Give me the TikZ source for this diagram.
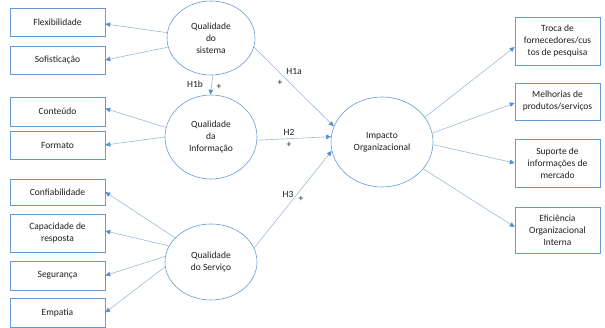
\documentclass[tikz,border=0pt]{standalone}
\usepackage{fontspec}
\setmainfont{Carlito}
\usetikzlibrary{shapes.geometric,arrows.meta}
\definecolor{bordc}{RGB}{100,155,210}
\definecolor{linec}{RGB}{160,185,215}
\definecolor{tipc}{RGB}{85,145,210}
\definecolor{txtc}{RGB}{30,30,30}
\tikzset{
  box/.style={draw=bordc,line width=0.6pt,rectangle,inner sep=1pt,align=center,text=txtc,font=\fontsize{9.5}{12}\selectfont},
  lbox/.style={box,minimum width=95pt},
  rbox/.style={box,minimum width=85pt},
  ell/.style={draw=bordc,line width=0.6pt,ellipse,inner sep=0pt,align=center,text=txtc,font=\fontsize{9.5}{12}\selectfont},
  arr/.style={draw=linec,line width=0.6pt,-{Triangle[width=4.5pt,length=5pt,color=tipc,fill=tipc]}},
  lab/.style={text=txtc,font=\fontsize{9.5}{12}\selectfont,inner sep=0pt}
}
\begin{document}
\begin{tikzpicture}[x=1pt,y=-1pt]
\useasboundingbox (0,0) rectangle (605,328);
% left boxes
\node[lbox,minimum height=28pt] (flex) at (57.5,22) {Flexibilidade};
\node[lbox,minimum height=28pt] (sof) at (57.5,60) {Sofisticação};
\node[lbox,minimum height=29pt] (cont) at (57.5,111.5) {Conteúdo};
\node[lbox,minimum height=28pt] (form) at (57.5,145) {Formato};
\node[lbox,minimum height=26pt] (conf) at (57.5,192) {Confiabilidade};
\node[lbox,minimum height=38pt] (cap) at (57.5,233) {Capacidade de\\resposta};
\node[lbox,minimum height=29pt] (seg) at (57.5,275.5) {Segurança};
\node[lbox,minimum height=29pt] (emp) at (57.5,312.5) {Empatia};
% ellipses
\node[ell,minimum width=88pt,minimum height=74pt] (sis) at (211,38) {Qualidade\\do\\sistema};
\node[ell,minimum width=92pt,minimum height=84pt] (inf) at (211,137) {Qualidade\\da\\Informação};
\node[ell,minimum width=92pt,minimum height=76pt] (serv) at (211,262) {Qualidade\\do Serviço};
\node[ell,minimum width=102pt,minimum height=90pt] (imp) at (382,142) {Impacto\\Organizacional};
% right boxes
\node[rbox,minimum height=48pt] (troca) at (557.5,41) {Troca de\\fornecedores/cus\\tos de pesquisa};
\node[rbox,minimum height=37pt] (melh) at (557.5,101.5) {Melhorias de\\produtos/serviços};
\node[rbox,minimum height=48pt] (sup) at (557.5,163) {Suporte de\\informações de\\mercado};
\node[rbox,minimum height=46pt] (efic) at (557.5,230) {Eficiência\\Organizacional\\Interna};
% arrows to left boxes
\draw[arr] (sis.173) -- ([yshift=-2pt]flex.east);
\draw[arr] (sis.192) -- (sof.east);
\draw[arr] (inf.168) -- ([yshift=3pt]cont.east);
\draw[arr] (inf.180) -- (form.east);
\draw[arr] (serv.146) -- (conf.east);
\draw[arr] (serv.159) -- ([yshift=2pt]cap.east);
\draw[arr] (serv.173) -- (seg.east);
\draw[arr] (serv.186) -- (emp.east);
% structural arrows
\draw[arr] (sis.273) -- (inf.91);
\draw[arr] (sis.-12) -- (imp.162);
\draw[arr] (inf.-4) -- (imp.174);
\draw[arr] (serv.18) -- (imp.190);
% arrows to right boxes
\draw[arr] (imp.30) -- ([yshift=-6pt]troca.west);
\draw[arr] (imp.10) -- ([yshift=-1.5pt]melh.west);
\draw[arr] (imp.-3) -- (sup.west);
\draw[arr] (imp.-33) -- ([yshift=3pt]efic.west);
% labels
\node[lab] (h1b) at (195,84) {H1b};
\node[lab] (p1b) at (219,87) {+};
\node[lab] (h1a) at (294,71) {H1a};
\node[lab] (p1a) at (280,83) {+};
\node[lab] (h2) at (289,132) {H2};
\node[lab] (p2) at (289,145) {+};
\node[lab] (h3) at (288,194) {H3};
\node[lab] (p3) at (301,199) {+};
\end{tikzpicture}
\end{document}
